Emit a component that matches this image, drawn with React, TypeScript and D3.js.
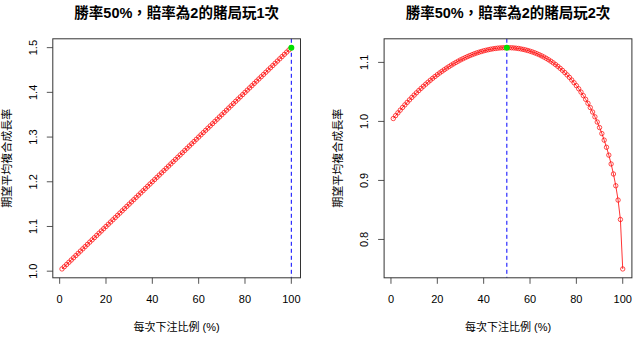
import React from "react";
import * as d3 from "d3";

const betPct = [
  1,2,3,4,5,6,7,8,9,10,11,12,13,14,15,16,17,18,19,20,
  21,22,23,24,25,26,27,28,29,30,31,32,33,34,35,36,37,38,39,40,
  41,42,43,44,45,46,47,48,49,50,51,52,53,54,55,56,57,58,59,60,
  61,62,63,64,65,66,67,68,69,70,71,72,73,74,75,76,77,78,79,80,
  81,82,83,84,85,86,87,88,89,90,91,92,93,94,95,96,97,98,99,100,
];

const growthOnce = [
  1.005,1.010,1.015,1.020,1.025,1.030,1.035,1.040,1.045,1.050,
  1.055,1.060,1.065,1.070,1.075,1.080,1.085,1.090,1.095,1.100,
  1.105,1.110,1.115,1.120,1.125,1.130,1.135,1.140,1.145,1.150,
  1.155,1.160,1.165,1.170,1.175,1.180,1.185,1.190,1.195,1.200,
  1.205,1.210,1.215,1.220,1.225,1.230,1.235,1.240,1.245,1.250,
  1.255,1.260,1.265,1.270,1.275,1.280,1.285,1.290,1.295,1.300,
  1.305,1.310,1.315,1.320,1.325,1.330,1.335,1.340,1.345,1.350,
  1.355,1.360,1.365,1.370,1.375,1.380,1.385,1.390,1.395,1.400,
  1.405,1.410,1.415,1.420,1.425,1.430,1.435,1.440,1.445,1.450,
  1.455,1.460,1.465,1.470,1.475,1.480,1.485,1.490,1.495,1.500,
];

const growthTwice = [
  1.0049,1.0098,1.0145,1.0191,1.0236,1.0280,1.0323,1.0365,1.0406,1.0446,
  1.0485,1.0523,1.0560,1.0596,1.0631,1.0665,1.0698,1.0730,1.0761,1.0792,
  1.0821,1.0849,1.0876,1.0903,1.0928,1.0953,1.0976,1.0999,1.1021,1.1042,
  1.1061,1.1080,1.1098,1.1115,1.1131,1.1146,1.1160,1.1173,1.1185,1.1196,
  1.1206,1.1215,1.1223,1.1230,1.1236,1.1241,1.1245,1.1248,1.1249,1.1250,
  1.1249,1.1248,1.1245,1.1241,1.1236,1.1229,1.1221,1.1212,1.1202,1.1190,
  1.1177,1.1163,1.1147,1.1130,1.1111,1.1091,1.1069,1.1045,1.1020,1.0993,
  1.0964,1.0933,1.0900,1.0865,1.0828,1.0788,1.0747,1.0702,1.0655,1.0606,
  1.0553,1.0497,1.0437,1.0374,1.0307,1.0235,1.0159,1.0078,0.9990,0.9896,
  0.9794,0.9683,0.9562,0.9429,0.9279,0.9109,0.8910,0.8667,0.8338,0.7500,
];

const xTicks = [0, 20, 40, 60, 80, 100];
const yTicksOnce = [1.0, 1.1, 1.2, 1.3, 1.4, 1.5];
const yTicksTwice = [0.8, 0.9, 1.0, 1.1];

const titles = ["勝率50%，賠率為2的賭局玩1次", "勝率50%，賠率為2的賭局玩2次"];
const xLabel = "每次下注比例 (%)";
const yLabel = "期望平均複合成長率";

const FONT = "'Liberation Sans', Arial, 'Noto Sans CJK TC', sans-serif";
const CJK = "'Liberation Sans', 'Noto Sans CJK TC', sans-serif";

function padDomain(vals: number[]): [number, number] {
  const [a, b] = d3.extent(vals) as [number, number];
  const e = (b - a) * 0.04;
  return [a - e, b + e];
}

type PanelProps = {
  left: number;
  right: number;
  top: number;
  bottom: number;
  ys: number[];
  yTicks: number[];
  title: string;
};

function Panel({ left, right, top, bottom, ys, yTicks, title }: PanelProps) {
  const x = d3.scaleLinear().domain(padDomain(betPct)).range([left, right]);
  const y = d3.scaleLinear().domain(padDomain(ys)).range([bottom, top]);
  const line = d3
    .line<number>()
    .x((_, i) => x(betPct[i]))
    .y((d) => y(d));
  const maxIdx = d3.maxIndex(ys);
  const cx = (left + right) / 2;
  const cy = (top + bottom) / 2;
  const tickLen = 6;
  return (
    <g>
      <text
        x={cx}
        y={18}
        textAnchor="middle"
        fontFamily={CJK}
        fontWeight="bold"
        fontSize={14.5}
        fill="#000"
      >
        {title}
      </text>
      {/* y axis label */}
      <text
        transform={`translate(${left - 46},${cy}) rotate(-90)`}
        textAnchor="middle"
        dominantBaseline="central"
        fontFamily={CJK}
        fontSize={11}
        fill="#000"
      >
        {yLabel}
      </text>
      {/* x axis label */}
      <text
        x={cx}
        y={331}
        textAnchor="middle"
        fontFamily={CJK}
        fontSize={11}
        fill="#000"
      >
        {xLabel}
      </text>
      {/* x ticks */}
      {xTicks.map((t) => (
        <g key={"x" + t}>
          <line x1={x(t)} x2={x(t)} y1={bottom} y2={bottom + tickLen} stroke="#555" strokeWidth={1} />
          <text x={x(t)} y={303} textAnchor="middle" fontFamily={FONT} fontSize={11} fill="#000">
            {t}
          </text>
        </g>
      ))}
      {/* y ticks */}
      {yTicks.map((t) => (
        <g key={"y" + t}>
          <line x1={left - tickLen} x2={left} y1={y(t)} y2={y(t)} stroke="#555" strokeWidth={1} />
          <text
            transform={`translate(${left - 16},${y(t)}) rotate(-90)`}
            textAnchor="middle"
            fontFamily={FONT}
            fontSize={11}
            fill="#000"
          >
            {t.toFixed(1)}
          </text>
        </g>
      ))}
      {/* dashed max line */}
      <line
        x1={x(betPct[maxIdx])}
        x2={x(betPct[maxIdx])}
        y1={top}
        y2={bottom}
        stroke="blue"
        strokeWidth={1}
        strokeDasharray="4,3"
      />
      {/* series line */}
      <path d={line(ys) || ""} fill="none" stroke="red" strokeWidth={0.8} />
      {ys.map((v, i) => (
        <circle key={i} cx={x(betPct[i])} cy={y(v)} r={2.2} fill="none" stroke="red" strokeWidth={0.7} />
      ))}
      <circle cx={x(betPct[maxIdx])} cy={y(ys[maxIdx])} r={3} fill="#00e000" />
      {/* box */}
      <rect x={left} y={top} width={right - left} height={bottom - top} fill="none" stroke="#333" strokeWidth={1} />
    </g>
  );
}

export default function App() {
  return (
    <svg
      width={640}
      height={338}
      style={{ position: "absolute", left: 0, top: 0, background: "#fff" }}
    >
      <rect x={0} y={0} width={640} height={338} fill="#fff" />
      <Panel left={52.8} right={300.5} top={38.8} bottom={277.8} ys={growthOnce} yTicks={yTicksOnce} title={titles[0]} />
      <Panel left={384.1} right={631.9} top={38.8} bottom={277.8} ys={growthTwice} yTicks={yTicksTwice} title={titles[1]} />
    </svg>
  );
}
